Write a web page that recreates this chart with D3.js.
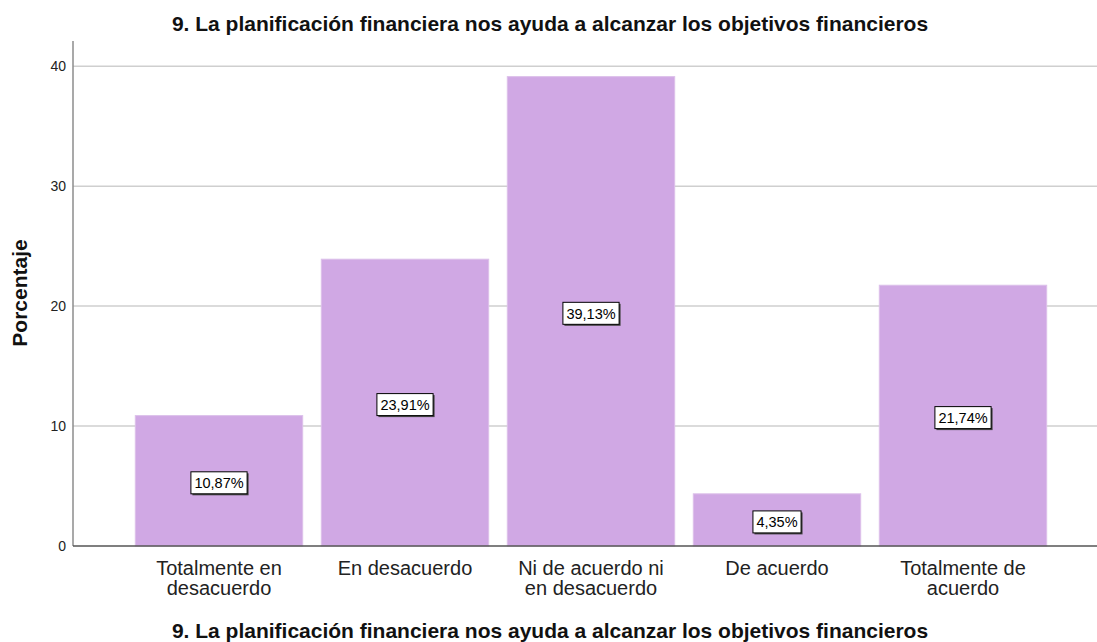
<!DOCTYPE html>
<html>
<head>
<meta charset="utf-8">
<script src="https://cdn.jsdelivr.net/npm/d3@7"></script>
<style>
  html, body { margin: 0; padding: 0; background: #fff; }
  svg { display: block; font-family: "Liberation Sans", Arial, sans-serif; }
</style>
</head>
<body>
<div id="chart"></div>
<script>
// chart data
const categories = [
  ["Totalmente en", "desacuerdo"],
  ["En desacuerdo"],
  ["Ni de acuerdo ni", "en desacuerdo"],
  ["De acuerdo"],
  ["Totalmente de", "acuerdo"]
];
const percentages = [10.87, 23.91, 39.13, 4.35, 21.74];
const yTicks = [0, 10, 20, 30, 40];
const titleText = "9. La planificación financiera nos ayuda a alcanzar los objetivos financieros";
const yLabel = "Porcentaje";

const width = 1097;
const height = 642;
const axisX = 73;

const svg = d3
  .select("#chart")
  .append("svg")
  .attr("width", width)
  .attr("height", height);

const x = d3
  .scaleBand()
  .domain(d3.range(categories.length))
  .range([126, 1056])
  .paddingInner(0.1)
  .paddingOuter(0.05);

const y = d3.scaleLinear().domain([0, 42.1]).range([546, 41]);

// gridlines
svg
  .append("g")
  .selectAll("line")
  .data(yTicks.filter((d) => d > 0))
  .join("line")
  .attr("x1", axisX)
  .attr("x2", width)
  .attr("y1", (d) => y(d))
  .attr("y2", (d) => y(d))
  .attr("stroke", "#cfcfcf")
  .attr("stroke-width", 1.5);

// bars
svg
  .append("g")
  .selectAll("rect")
  .data(percentages)
  .join("rect")
  .attr("x", (d, i) => x(i))
  .attr("y", (d) => y(d))
  .attr("width", x.bandwidth())
  .attr("height", (d) => y(0) - y(d))
  .attr("fill", "#d0a8e4")
  .attr("stroke", "#dcc0ea")
  .attr("stroke-width", 1);

// y axis
const yAxis = svg
  .append("g")
  .attr("transform", `translate(${axisX},0)`)
  .call(d3.axisLeft(y).tickValues(yTicks).tickSize(0).tickPadding(7));
yAxis.select(".domain").remove();
yAxis
  .selectAll("text")
  .attr("font-size", 14)
  .attr("font-family", "Liberation Sans, Arial, sans-serif")
  .attr("fill", "#222");

svg
  .append("line")
  .attr("x1", axisX)
  .attr("x2", axisX)
  .attr("y1", y(42.1))
  .attr("y2", y(0))
  .attr("stroke", "#8c8c8c")
  .attr("stroke-width", 1.5);

// baseline
svg
  .append("line")
  .attr("x1", axisX)
  .attr("x2", width)
  .attr("y1", y(0))
  .attr("y2", y(0))
  .attr("stroke", "#555")
  .attr("stroke-width", 1.5);

// value labels in boxes
const fmt = (v) => v.toFixed(2).replace(".", ",") + "%";
const labels = svg
  .append("g")
  .selectAll("g")
  .data(percentages)
  .join("g")
  .attr("transform", (d, i) => `translate(${x(i) + x.bandwidth() / 2},${y(d / 2) + 2})`);

labels.each(function (d) {
  const g = d3.select(this);
  const t = g
    .append("text")
    .attr("text-anchor", "middle")
    .attr("dy", "0.36em")
    .attr("font-size", 14.5)
    .attr("fill", "#000")
    .text(fmt(d));
  const w = t.node().getComputedTextLength() + 7;
  const h = 22;
  g.insert("rect", "text")
    .attr("x", -w / 2 + 1.5)
    .attr("y", -h / 2 + 1.5)
    .attr("width", w)
    .attr("height", h)
    .attr("fill", "#444");
  g.insert("rect", "text")
    .attr("x", -w / 2)
    .attr("y", -h / 2)
    .attr("width", w)
    .attr("height", h)
    .attr("fill", "#fff")
    .attr("stroke", "#000")
    .attr("stroke-width", 1);
});

// category labels
svg
  .append("g")
  .selectAll("text")
  .data(categories)
  .join("text")
  .attr("text-anchor", "middle")
  .attr("font-size", 20)
  .attr("fill", "#222")
  .attr("x", (d, i) => x(i) + x.bandwidth() / 2)
  .attr("y", 575)
  .selectAll("tspan")
  .data((d) => d)
  .join("tspan")
  .attr("x", function () {
    return this.parentNode.getAttribute("x");
  })
  .attr("dy", (d, i) => (i === 0 ? 0 : 20))
  .text((d) => d);

// titles
svg
  .append("text")
  .attr("x", 550)
  .attr("y", 31)
  .attr("text-anchor", "middle")
  .attr("font-size", 21)
  .attr("font-weight", "bold")
  .attr("fill", "#111")
  .text(titleText);

svg
  .append("text")
  .attr("x", 550)
  .attr("y", 638)
  .attr("text-anchor", "middle")
  .attr("font-size", 21)
  .attr("font-weight", "bold")
  .attr("fill", "#111")
  .text(titleText);

svg
  .append("text")
  .attr("transform", "translate(27,293) rotate(-90)")
  .attr("text-anchor", "middle")
  .attr("font-size", 21)
  .attr("font-weight", "bold")
  .attr("fill", "#111")
  .text(yLabel);
</script>
</body>
</html>
